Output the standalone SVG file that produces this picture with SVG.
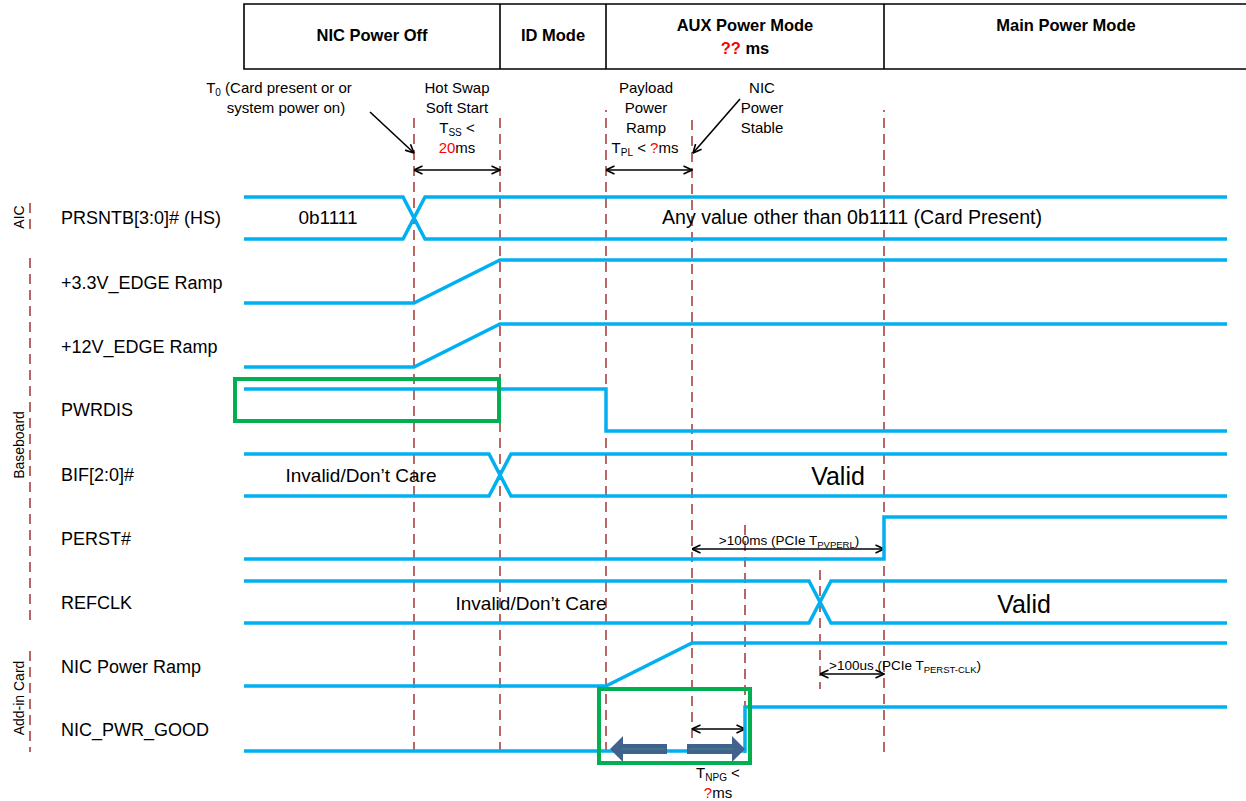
<svg xmlns="http://www.w3.org/2000/svg" width="1246" height="801" viewBox="0 0 1246 801">
<style>
text{font-family:"Liberation Sans",Arial,sans-serif;fill:#000}
.hdr{font-size:16.5px;font-weight:bold;text-anchor:middle}
.lbl{font-size:18px}
.ann{font-size:15px;text-anchor:middle}
.small{font-size:13.5px}
.sec{font-size:14px;text-anchor:middle}
.val{font-size:19px;text-anchor:middle}
.wide{font-size:19.6px}
.big{font-size:25px;text-anchor:middle}
.red{fill:#ff0000}
.sig{fill:none;stroke:#00b0f0;stroke-width:3.5;stroke-linejoin:miter}
.dash{fill:none;stroke:#a5423e;stroke-width:1.6;stroke-dasharray:10,6}
.box{fill:#fff;stroke:#000;stroke-width:1.6}
.green{fill:none;stroke:#00b050;stroke-width:4}
.dim{fill:none;stroke:#000;stroke-width:1.6;marker-start:url(#ah);marker-end:url(#ah)}
.ptr{fill:none;stroke:#000;stroke-width:1.6;marker-end:url(#ah)}
.blk{fill:#41618f}
</style>
<defs>
<marker id="ah" viewBox="0 0 10 10" refX="9.5" refY="5" markerWidth="10" markerHeight="10" markerUnits="userSpaceOnUse" orient="auto-start-reverse">
<path d="M1,1 L9.5,5 L1,9" fill="none" stroke="#000" stroke-width="1.6"/>
</marker>
</defs>

<g id="header">
<path class="box" d="M1246,4 H244 V69 H1246"/>
<line x1="500" y1="4" x2="500" y2="69" stroke="#000" stroke-width="1.6"/>
<line x1="606" y1="4" x2="606" y2="69" stroke="#000" stroke-width="1.6"/>
<line x1="884" y1="4" x2="884" y2="69" stroke="#000" stroke-width="1.6"/>
<text class="hdr" x="372" y="41">NIC Power Off</text>
<text class="hdr" x="553" y="41">ID Mode</text>
<text class="hdr" x="745" y="31">AUX Power Mode</text>
<text class="hdr" x="745" y="54"><tspan class="red">??</tspan> ms</text>
<text class="hdr" x="1066" y="31">Main Power Mode</text>
</g>

<g id="gridlines">
<line class="dash" x1="414" y1="118" x2="414" y2="753"/>
<line class="dash" x1="500" y1="118" x2="500" y2="753"/>
<line class="dash" x1="606" y1="110" x2="606" y2="112"/>
<line class="dash" x1="606" y1="118" x2="606" y2="753"/>
<line class="dash" x1="692" y1="120" x2="692" y2="753"/>
<line class="dash" x1="884" y1="110" x2="884" y2="112"/>
<line class="dash" x1="884" y1="118" x2="884" y2="753"/>
<line class="dash" x1="745" y1="525" x2="745" y2="753"/>
<line class="dash" x1="820" y1="570" x2="820" y2="689"/>
<line class="dash" x1="30" y1="203" x2="30" y2="233"/>
<line class="dash" x1="30" y1="258" x2="30" y2="622"/>
<line class="dash" x1="30" y1="651" x2="30" y2="752"/>
</g>

<g id="sections">
<text class="sec" transform="translate(24,217) rotate(-90)">AIC</text>
<text class="sec" transform="translate(24,445) rotate(-90)">Baseboard</text>
<text class="sec" transform="translate(24,698) rotate(-90)">Add-in Card</text>
</g>

<g id="annotations-top">
<text class="ann" x="279" y="93">T<tspan font-size="10" dy="3">0</tspan><tspan dy="-3"> (Card present or or</tspan></text>
<text class="ann" x="286" y="113">system power on)</text>
<text class="ann" x="457" y="93">Hot Swap</text>
<text class="ann" x="457" y="113">Soft Start</text>
<text class="ann" x="457" y="133">T<tspan font-size="10" dy="3">SS</tspan><tspan dy="-3"> &lt;</tspan></text>
<text class="ann" x="457" y="153"><tspan class="red">20</tspan>ms</text>
<text class="ann" x="646" y="93">Payload</text>
<text class="ann" x="646" y="113">Power</text>
<text class="ann" x="646" y="133">Ramp</text>
<text class="ann" x="645" y="153">T<tspan font-size="10" dy="3">PL</tspan><tspan dy="-3"> &lt; </tspan><tspan class="red">?</tspan>ms</text>
<text class="ann" x="762" y="93">NIC</text>
<text class="ann" x="762" y="113">Power</text>
<text class="ann" x="762" y="133">Stable</text>
</g>

<g id="connectors">
<line class="ptr" x1="370" y1="112" x2="414" y2="153"/>
<line class="ptr" x1="740" y1="99" x2="693" y2="153"/>
<line class="dim" x1="414" y1="170" x2="500" y2="170"/>
<line class="dim" x1="606" y1="170" x2="692" y2="170"/>
<line class="dim" x1="692" y1="549" x2="884" y2="549"/>
<line class="dim" x1="820" y1="674" x2="884" y2="674"/>
<line class="dim" x1="692" y1="729" x2="745" y2="729"/>
</g>

<g id="sig-prsntb">
<text class="lbl" x="61" y="224">PRSNTB[3:0]# (HS)</text>
<polyline class="sig" points="244,197 403,197 425,239 1227,239"/>
<polyline class="sig" points="244,239 403,239 425,197 1227,197"/>
<text class="val" x="328" y="224">0b1111</text>
<text class="val wide" x="852" y="224">Any value other than 0b1111 (Card Present)</text>
</g>

<g id="sig-3v3">
<text class="lbl" x="61" y="289">+3.3V_EDGE Ramp</text>
<polyline class="sig" points="244,303 414,303 500,260 1227,260"/>
</g>

<g id="sig-12v">
<text class="lbl" x="61" y="353">+12V_EDGE Ramp</text>
<polyline class="sig" points="244,367 414,367 500,324 1227,324"/>
</g>

<g id="sig-pwrdis">
<text class="lbl" x="61" y="416">PWRDIS</text>
<polyline class="sig" points="244,389 606,389 606,431 1227,431"/>
<rect class="green" x="235" y="379" width="264" height="42"/>
</g>

<g id="sig-bif">
<text class="lbl" x="61" y="481">BIF[2:0]#</text>
<polyline class="sig" points="244,454 489,454 511,496 1227,496"/>
<polyline class="sig" points="244,496 489,496 511,454 1227,454"/>
<text class="val" x="361" y="482">Invalid/Don’t Care</text>
<text class="big" x="838" y="485">Valid</text>
</g>

<g id="sig-perst">
<text class="lbl" x="61" y="545">PERST#</text>
<polyline class="sig" points="244,559 884,559 884,517 1227,517"/>
<text class="small" x="789" y="545" text-anchor="middle">&gt;100ms (PCIe T<tspan font-size="9.5" dy="3">PVPERL</tspan><tspan dy="-3">)</tspan></text>
</g>

<g id="sig-refclk">
<text class="lbl" x="61" y="609">REFCLK</text>
<polyline class="sig" points="244,581 809,581 831,623 1227,623"/>
<polyline class="sig" points="244,623 809,623 831,581 1227,581"/>
<text class="val" x="531" y="610">Invalid/Don’t Care</text>
<text class="big" x="1024" y="613">Valid</text>
</g>

<g id="sig-nicramp">
<text class="lbl" x="61" y="673">NIC Power Ramp</text>
<polyline class="sig" points="244,686 606,686 692,643 1227,643"/>
<text class="small" x="829" y="670">&gt;100us (PCIe T<tspan font-size="9.5" dy="3">PERST-CLK</tspan><tspan dy="-3">)</tspan></text>
</g>

<g id="sig-nicpg">
<text class="lbl" x="61" y="736">NIC_PWR_GOOD</text>
<polyline class="sig" points="244,751 745,751 745,707 1227,707"/>
<path class="blk" d="M610,749 L623,736 L623,744 L667,744 L667,754 L623,754 L623,762 Z"/>
<path class="blk" d="M745,749 L732,736 L732,744 L687,744 L687,754 L732,754 L732,762 Z"/>
<line x1="622" y1="749" x2="665" y2="749" stroke="#3a8c7c" stroke-width="1.2"/>
<line x1="689" y1="749" x2="733" y2="749" stroke="#3a8c7c" stroke-width="1.2"/>
<rect class="green" x="599" y="689" width="151" height="74"/>
<text class="ann" x="718" y="778">T<tspan font-size="10" dy="3">NPG</tspan><tspan dy="-3"> &lt;</tspan></text>
<text class="ann" x="718" y="798"><tspan class="red">?</tspan>ms</text>
</g>
</svg>
